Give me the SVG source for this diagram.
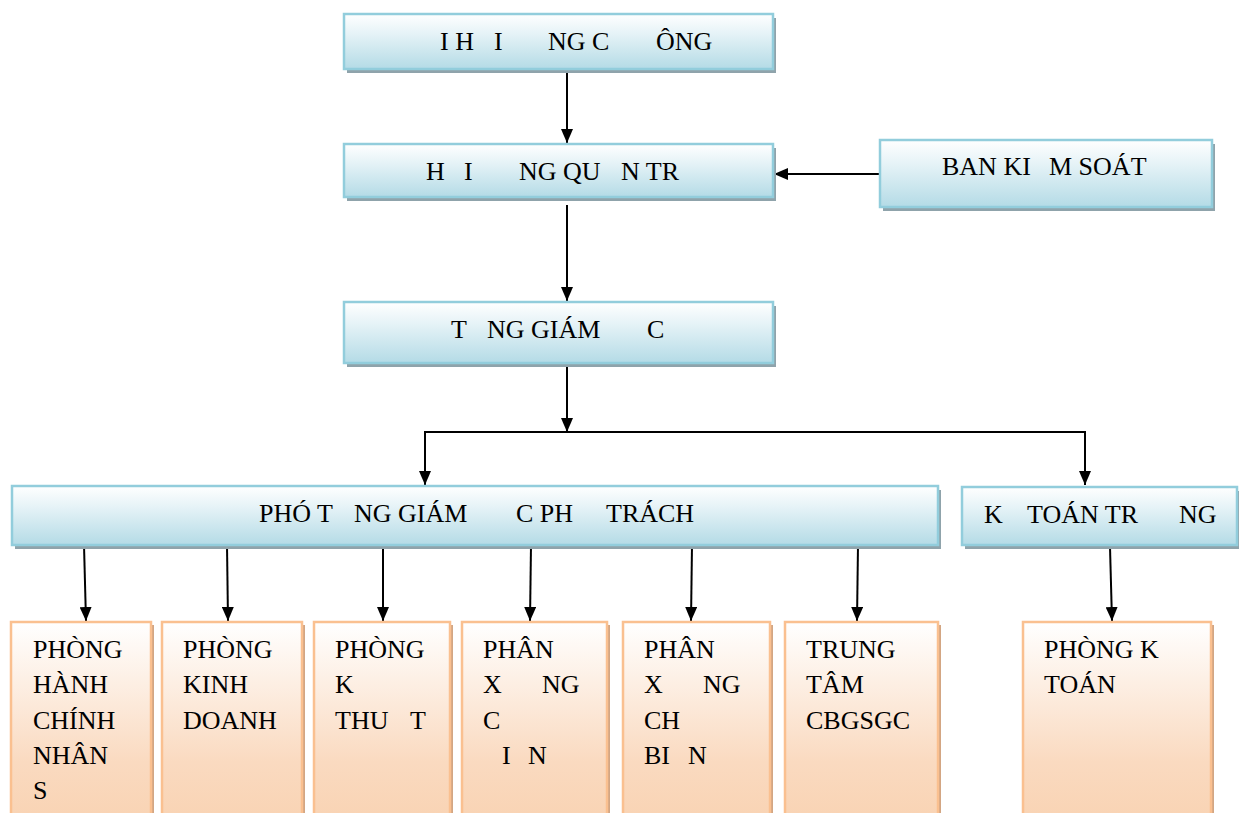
<svg xmlns="http://www.w3.org/2000/svg" width="1239" height="813" viewBox="0 0 1239 813">
<defs>
<linearGradient id="gBlue" x1="0" y1="0" x2="0" y2="1">
<stop offset="0" stop-color="#ffffff"/>
<stop offset="0.35" stop-color="#e6f3f7"/>
<stop offset="1" stop-color="#b4dbe6"/>
</linearGradient>
<linearGradient id="gOrange" x1="0" y1="0" x2="0" y2="1">
<stop offset="0" stop-color="#ffffff"/>
<stop offset="0.7" stop-color="#fadac0"/>
<stop offset="1" stop-color="#f9d3b3"/>
</linearGradient>
<marker id="arr" markerWidth="14" markerHeight="12" refX="14" refY="6" orient="auto-start-reverse" markerUnits="userSpaceOnUse" viewBox="0 0 14 12">
<path d="M0,0 L14,6 L0,12 Z" fill="#000"/>
</marker>
</defs>
<style>
.bshadow{fill:#8fa3ab}
.bbox{fill:url(#gBlue);stroke:#92cddc;stroke-width:2.5}
.oshadow{fill:#d3a683}
.obox{fill:url(#gOrange);stroke:#fac090;stroke-width:2.5}
text{font-family:"Liberation Serif","Times New Roman",serif;font-size:26px;fill:#000}
.c{fill:none;stroke:#000;stroke-width:2}
</style>

<g id="connectors">
<line class="c" x1="567" y1="73" x2="567" y2="143" marker-end="url(#arr)"/>
<line class="c" x1="880" y1="174" x2="774" y2="174" marker-end="url(#arr)"/>
<line class="c" x1="567" y1="205" x2="567" y2="301" marker-end="url(#arr)"/>
<line class="c" x1="567" y1="367" x2="567" y2="432" marker-end="url(#arr)"/>
<polyline class="c" points="425,485 425,432 1085,432 1085,485" style="marker-start:url(#arr);marker-end:url(#arr)"/>
<line class="c" x1="84" y1="545" x2="86" y2="621" marker-end="url(#arr)"/>
<line class="c" x1="227" y1="545" x2="228" y2="621" marker-end="url(#arr)"/>
<line class="c" x1="383" y1="545" x2="383" y2="621" marker-end="url(#arr)"/>
<line class="c" x1="531" y1="545" x2="530" y2="621" marker-end="url(#arr)"/>
<line class="c" x1="692" y1="545" x2="691" y2="621" marker-end="url(#arr)"/>
<line class="c" x1="858" y1="545" x2="857" y2="621" marker-end="url(#arr)"/>
<line class="c" x1="1110" y1="547" x2="1112" y2="621" marker-end="url(#arr)"/>
</g>

<g id="dai-hoi-dong-co-dong">
<rect class="bshadow" x="347" y="18" width="429" height="55"/>
<rect class="bbox" x="344" y="14" width="429" height="55"/>
<text y="50"><tspan x="440">I H</tspan><tspan x="494">I</tspan><tspan x="548">NG C</tspan><tspan x="656">ÔNG</tspan></text>
</g>

<g id="hoi-dong-quan-tri">
<rect class="bshadow" x="347" y="148" width="429" height="53"/>
<rect class="bbox" x="344" y="144" width="429" height="53"/>
<text y="180"><tspan x="426">H</tspan><tspan x="464">I</tspan><tspan x="519">NG QU</tspan><tspan x="621">N TR</tspan></text>
</g>

<g id="ban-kiem-soat">
<rect class="bshadow" x="883" y="144" width="332" height="67"/>
<rect class="bbox" x="880" y="140" width="332" height="67"/>
<text y="175"><tspan x="942">BAN KI</tspan><tspan x="1049">M SOÁT</tspan></text>
</g>

<g id="tong-giam-doc">
<rect class="bshadow" x="347" y="306" width="429" height="61"/>
<rect class="bbox" x="344" y="302" width="429" height="61"/>
<text y="338"><tspan x="451">T</tspan><tspan x="487">NG GIÁM</tspan><tspan x="647">C</tspan></text>
</g>

<g id="pho-tong-giam-doc">
<rect class="bshadow" x="15" y="490" width="926" height="59"/>
<rect class="bbox" x="12" y="486" width="926" height="59"/>
<text y="522"><tspan x="259">PHÓ T</tspan><tspan x="354">NG GIÁM</tspan><tspan x="516">C PH</tspan><tspan x="606">TRÁCH</tspan></text>
</g>

<g id="ke-toan-truong">
<rect class="bshadow" x="965" y="491" width="276" height="58"/>
<rect class="bbox" x="962" y="487" width="275" height="58"/>
<text y="523"><tspan x="984">K</tspan><tspan x="1027">TOÁN TR</tspan><tspan x="1179">NG</tspan></text>
</g>

<g id="phong-hanh-chinh">
<rect class="oshadow" x="14" y="625" width="140" height="200"/>
<rect class="obox" x="11" y="622" width="140" height="200"/>
<text><tspan x="33" y="658">PHÒNG</tspan><tspan x="33" y="693">HÀNH</tspan><tspan x="33" y="729">CHÍNH</tspan><tspan x="33" y="764">NHÂN</tspan><tspan x="33" y="799">S</tspan></text>
</g>

<g id="phong-kinh-doanh">
<rect class="oshadow" x="165" y="625" width="140" height="200"/>
<rect class="obox" x="162" y="622" width="140" height="200"/>
<text><tspan x="183" y="658">PHÒNG</tspan><tspan x="183" y="693">KINH</tspan><tspan x="183" y="729">DOANH</tspan></text>
</g>

<g id="phong-ky-thuat">
<rect class="oshadow" x="317" y="625" width="136" height="200"/>
<rect class="obox" x="314" y="622" width="136" height="200"/>
<text><tspan x="335" y="658">PHÒNG</tspan><tspan x="335" y="693">K</tspan><tspan x="335" y="729">THU</tspan><tspan x="410" y="729">T</tspan></text>
</g>

<g id="phan-xuong-co-dien">
<rect class="oshadow" x="465" y="625" width="145" height="200"/>
<rect class="obox" x="462" y="622" width="145" height="200"/>
<text><tspan x="483" y="658">PHÂN</tspan><tspan x="483" y="693">X</tspan><tspan x="542" y="693">NG</tspan><tspan x="483" y="729">C</tspan><tspan x="502" y="764">I</tspan><tspan x="528" y="764">N</tspan></text>
</g>

<g id="phan-xuong-che-bien">
<rect class="oshadow" x="626" y="625" width="147" height="200"/>
<rect class="obox" x="623" y="622" width="147" height="200"/>
<text><tspan x="644" y="658">PHÂN</tspan><tspan x="644" y="693">X</tspan><tspan x="703" y="693">NG</tspan><tspan x="644" y="729">CH</tspan><tspan x="644" y="764">BI</tspan><tspan x="688" y="764">N</tspan></text>
</g>

<g id="trung-tam-cbgsgc">
<rect class="oshadow" x="788" y="625" width="153" height="200"/>
<rect class="obox" x="785" y="622" width="153" height="200"/>
<text><tspan x="806" y="658">TRUNG</tspan><tspan x="806" y="693">TÂM</tspan><tspan x="806" y="729">CBGSGC</tspan></text>
</g>

<g id="phong-ke-toan">
<rect class="oshadow" x="1026" y="625" width="188" height="200"/>
<rect class="obox" x="1023" y="622" width="188" height="200"/>
<text><tspan x="1044" y="658">PHÒNG K</tspan><tspan x="1044" y="693">TOÁN</tspan></text>
</g>
</svg>
